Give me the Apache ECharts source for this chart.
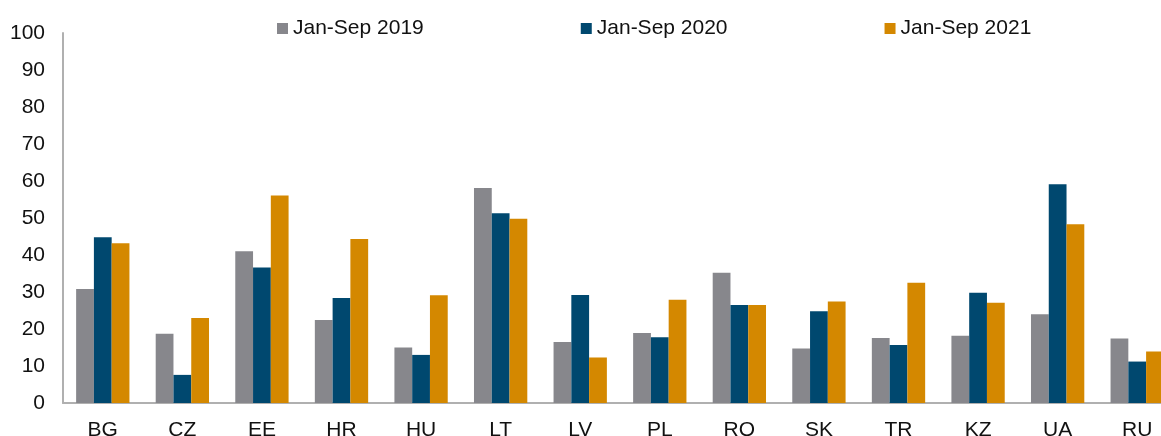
<!DOCTYPE html>
<html>
<head>
<meta charset="utf-8">
<script src="https://cdn.jsdelivr.net/npm/echarts@6/dist/echarts.min.js"></script>
<style>
html, body { margin: 0; padding: 0; background: #fff; }
#chart { width: 1161px; height: 436px; }
</style>
</head>
<body>
<div id="chart"></div>
<script>
// countries on the x axis
var categories = ["BG", "CZ", "EE", "HR", "HU", "LT", "LV", "PL", "RO", "SK", "TR", "KZ", "UA", "RU"];
var seriesNames = ["Jan-Sep 2019", "Jan-Sep 2020", "Jan-Sep 2021"];
var values2019 = [30.8, 18.7, 41.0, 22.4, 15.0, 58.1, 16.5, 18.9, 35.2, 14.7, 17.6, 18.2, 24.0, 17.4];
var values2020 = [44.8, 7.6, 36.6, 28.4, 13.0, 51.3, 29.2, 17.8, 26.5, 24.8, 15.7, 29.8, 59.1, 11.2];
var values2021 = [43.2, 23.0, 56.1, 44.3, 29.1, 49.8, 12.3, 27.9, 26.5, 27.4, 32.5, 27.1, 48.3, 13.9];

var colors = ["#87878c", "#00486f", "#d48800"];
var font = "Liberation Sans, Arial, sans-serif";

const myChart = echarts.init(document.getElementById("chart"));
myChart.setOption({
  animation: false,
  color: colors,
  legend: {
    data: seriesNames,
    left: 272,
    top: 13,
    itemWidth: 11,
    itemHeight: 11,
    itemGap: 157,
    icon: "rect",
    textStyle: { fontFamily: font, fontSize: 21, color: "#111" },
  },
  grid: {
    left: 63,
    top: 33,
    width: 1114,
    bottom: 33,
    containLabel: false,
    outerBoundsMode: "none",
  },
  xAxis: {
    type: "category",
    data: categories,
    axisLine: { lineStyle: { color: "#b0b0b0", width: 2 } },
    axisTick: { show: false },
    axisLabel: { fontFamily: font, fontSize: 21, color: "#111", margin: 17 },
  },
  yAxis: {
    type: "value",
    min: 0,
    max: 100,
    interval: 10,
    splitLine: { show: false },
    axisLine: { show: true, lineStyle: { color: "#b0b0b0", width: 2 } },
    axisTick: { show: false },
    axisLabel: { fontFamily: font, fontSize: 21, color: "#111", margin: 18 },
  },
  series: [
    { name: seriesNames[0], type: "bar", data: values2019, barGap: "0%", barCategoryGap: "33%" },
    { name: seriesNames[1], type: "bar", data: values2020, barGap: "0%", barCategoryGap: "33%" },
    { name: seriesNames[2], type: "bar", data: values2021, barGap: "0%", barCategoryGap: "33%" },
  ],
});
</script>
</body>
</html>
